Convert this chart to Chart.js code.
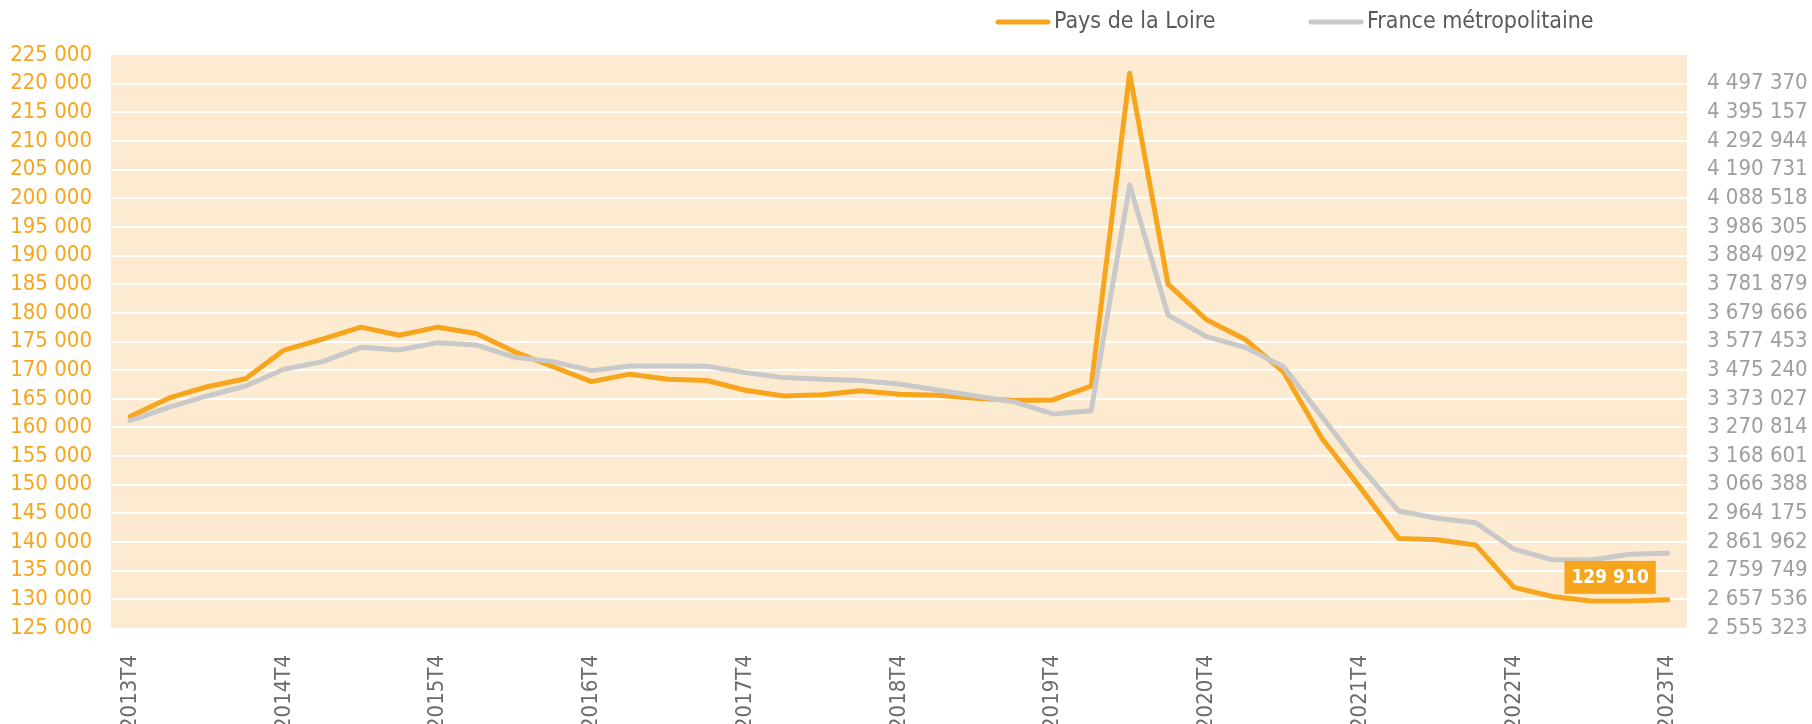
<!DOCTYPE html>
<html>
<head>
<meta charset="utf-8">
<script src="https://cdn.jsdelivr.net/npm/chart.js@4.4.1/dist/chart.umd.min.js"></script>
<style>
  html, body { margin: 0; padding: 0; background: #fff; }
  #wrap { width: 1812px; height: 724px; position: relative; }
</style>
</head>
<body>
<div id="wrap"><canvas id="graf_emploi"></canvas></div>
<script>
// trimestres
const trimestres = ['2013T4','2014T1','2014T2','2014T3','2014T4','2015T1','2015T2','2015T3','2015T4',
  '2016T1','2016T2','2016T3','2016T4','2017T1','2017T2','2017T3','2017T4','2018T1','2018T2','2018T3','2018T4',
  '2019T1','2019T2','2019T3','2019T4','2020T1','2020T2','2020T3','2020T4','2021T1','2021T2','2021T3','2021T4',
  '2022T1','2022T2','2022T3','2022T4','2023T1','2023T2','2023T3','2023T4'];

// Pays de la Loire (axe gauche)
const pays_loire = [161900, 165100, 167100, 168500, 173500, 175400, 177500, 176100, 177500, 176400,
  173200, 170600, 168000, 169300, 168400, 168200, 166500, 165500, 165700, 166400, 165800,
  165600, 165100, 164700, 164800, 167200, 221800, 185000, 178800, 175400, 169700,
  158100, 149500, 140600, 140400, 139500, 132100, 130500, 129700, 129700, 129910];

// France metropolitaine (axe droit)
const france_metro = [3295100, 3342700, 3383100, 3418800, 3478300, 3505600, 3556700, 3547200, 3573400, 3565100,
  3521100, 3505600, 3473500, 3490200, 3490200, 3489500, 3466400, 3448600, 3442600, 3437900, 3426000,
  3404600, 3383200, 3361800, 3319000, 3330800, 4135500, 3672100, 3594800, 3556700, 3487800,
  3309400, 3131800, 2972700, 2946600, 2931200, 2836500, 2798600, 2797800, 2818700, 2822300];

// graduations axe droit
const ticks_droite = [2555323, 2657536, 2759749, 2861962, 2964175, 3066388, 3168601, 3270814, 3373027,
  3475240, 3577453, 3679666, 3781879, 3884092, 3986305, 4088518, 4190731, 4292944, 4395157, 4497370];

const ORANGE = '#F8A51E'
const GRIS = '#C9C9C9'
const FOND = '#FDEBD1'
const POLICE = '"DejaVu Sans Condensed", "DejaVu Sans", sans-serif'

function format_nombre(v) {
  return Math.round(v).toString().replace(/\B(?=(\d{3})+(?!\d))/g, ' ')
}

// fond de la zone de tracé
const fond_plugin = {
  id: 'fond',
  beforeDraw(chart) {
    const a = chart.chartArea
    const c = chart.ctx
    c.save()
    c.fillStyle = FOND
    c.fillRect(a.left, a.top, a.right - a.left, a.bottom - a.top)
    c.restore()
  }
}

// légende en haut
const legende_plugin = {
  id: 'legende',
  afterDraw(chart) {
    const c = chart.ctx
    const items = [
      {texte: 'Pays de la Loire', couleur: ORANGE, x: 998},
      {texte: 'France métropolitaine', couleur: GRIS, x: 1311}
    ]
    c.save()
    c.font = '23px ' + POLICE
    c.textBaseline = 'middle'
    items.forEach(it => {
      c.strokeStyle = it.couleur
      c.lineWidth = 5
      c.lineCap = 'round'
      c.beginPath()
      c.moveTo(it.x, 22)
      c.lineTo(it.x + 50, 22)
      c.stroke()
      c.fillStyle = '#595959'
      c.fillText(it.texte, it.x + 56, 22)
    })
    c.restore()
  }
}

// étiquette de la dernière valeur
const etiquette_plugin = {
  id: 'etiquette',
  afterDatasetsDraw(chart) {
    const meta = chart.getDatasetMeta(0)
    const pt = meta.data[meta.data.length - 1]
    const c = chart.ctx
    const txt = format_nombre(pays_loire[pays_loire.length - 1])
    c.save()
    c.font = 'bold 19px ' + POLICE
    const w = c.measureText(txt).width + 14
    const h = 33
    const droite = pt.x - 12
    const bas = pt.y - 6
    c.fillStyle = ORANGE
    c.fillRect(droite - w, bas - h, w, h)
    c.fillStyle = '#FFFFFF'
    c.textAlign = 'center'
    c.textBaseline = 'middle'
    c.fillText(txt, droite - w / 2, bas - h / 2 + 1)
    c.restore()
  }
}

let graf = new Chart(document.getElementById('graf_emploi'), {
  type: 'line',
  data: {
    labels: trimestres,
    datasets: [{
      label: 'Pays de la Loire',
      data: pays_loire,
      borderColor: ORANGE,
      borderWidth: 5,
      pointRadius: 0,
      borderJoinStyle: 'round',
      borderCapStyle: 'round',
      yAxisID: 'y',
      order: 2
    }, {
      label: 'France métropolitaine',
      data: france_metro,
      borderColor: GRIS,
      borderWidth: 5,
      pointRadius: 0,
      borderJoinStyle: 'round',
      borderCapStyle: 'round',
      yAxisID: 'y1',
      order: 1
    }]
  },
  options: {
    responsive: true,
    maintainAspectRatio: false,
    animation: false,
    devicePixelRatio: 1,
    layout: { padding: { top: 55, left: 0, right: 0, bottom: 0 } },
    plugins: {
      legend: { display: false },
      tooltip: { enabled: false }
    },
    scales: {
      x: {
        offset: true,
        grid: { display: false },
        border: { display: false },
        ticks: {
          autoSkip: false,
          maxRotation: 90,
          minRotation: 90,
          padding: 19,
          color: '#6B6B6B',
          font: { family: POLICE, size: 22 },
          callback: (v, i) => i % 4 === 0 ? trimestres[i] : ''
        },
        afterFit: (s) => { s.height = 96 }
      },
      y: {
        position: 'left',
        min: 125000,
        max: 225000,
        border: { display: false },
        grid: {
          color: (c) => (c.tick && (c.tick.value === 125000 || c.tick.value === 225000)) ? 'rgba(0,0,0,0)' : '#FFFFFF',
          lineWidth: 2,
          drawTicks: false
        },
        ticks: {
          autoSkip: false,
          stepSize: 5000,
          padding: 19,
          color: ORANGE,
          font: { family: POLICE, size: 22 },
          callback: (v) => format_nombre(v)
        },
        afterFit: (s) => { s.width = 111 }
      },
      y1: {
        position: 'right',
        min: 2555323,
        max: 4599583,
        border: { display: false },
        grid: { display: false, drawTicks: false },
        afterBuildTicks: (s) => { s.ticks = ticks_droite.map(v => ({ value: v })) },
        ticks: {
          autoSkip: false,
          padding: 20,
          color: '#9E9E9E',
          font: { family: POLICE, size: 22 },
          callback: (v) => format_nombre(v)
        },
        afterFit: (s) => { s.width = 125 }
      }
    }
  },
  plugins: [fond_plugin, legende_plugin, etiquette_plugin]
});
</script>
</body>
</html>
